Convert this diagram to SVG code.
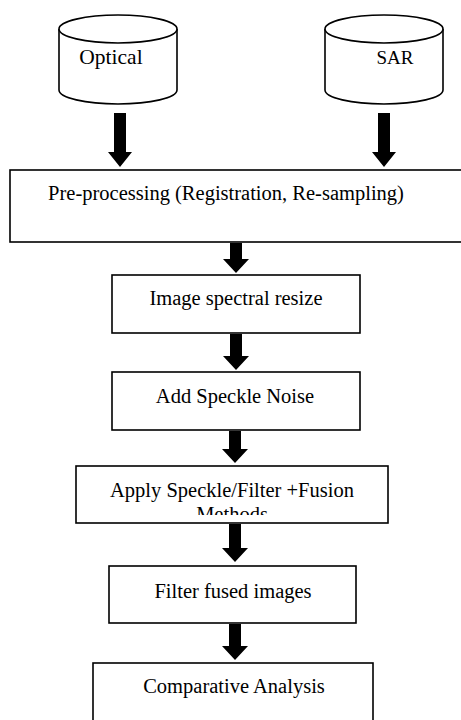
<svg xmlns="http://www.w3.org/2000/svg" width="461" height="720" viewBox="0 0 461 720">
<defs>
<style>
.s{fill:#fff;stroke:#000;stroke-width:1.6}
.t{font-family:"Liberation Serif","Times New Roman",serif;font-size:20.5px;fill:#000;text-anchor:middle}
.a{fill:#000;stroke:none}
</style>
<clipPath id="clipApply"><rect x="76" y="467" width="312" height="48"/></clipPath>
</defs>
<rect width="461" height="720" fill="#fff"/>
<g id="optical">
<path class="s" d="M59,29 V90 A59,14 0 0 0 177,90 V29"/>
<ellipse class="s" cx="118" cy="29" rx="59" ry="14"/>
<text class="t" x="111" y="64" style="font-size:21.5px">Optical</text>
</g>
<g id="sar">
<path class="s" d="M325,29 V90 A59,14 0 0 0 443,90 V29"/>
<ellipse class="s" cx="384" cy="29" rx="59" ry="14"/>
<text class="t" x="395" y="64" style="font-size:19px">SAR</text>
</g>
<g id="preprocessing">
<rect class="s" x="10" y="170" width="460" height="72"/>
<text class="t" x="226" y="200">Pre-processing (Registration, Re-sampling)</text>
</g>
<g id="resize">
<rect class="s" x="112" y="275" width="248" height="58"/>
<text class="t" x="236" y="305">Image spectral resize</text>
</g>
<g id="noise">
<rect class="s" x="112" y="372" width="248" height="58"/>
<text class="t" x="235" y="403">Add Speckle Noise</text>
</g>
<g id="apply">
<rect class="s" x="76" y="466" width="312" height="57"/>
<text class="t" x="232" y="497" clip-path="url(#clipApply)"><tspan x="232">Apply Speckle/Filter +Fusion</tspan><tspan x="232" dy="24">Methods</tspan></text>
</g>
<g id="filter">
<rect class="s" x="109" y="566" width="247" height="57"/>
<text class="t" x="233" y="598">Filter fused images</text>
</g>
<g id="comparative">
<rect class="s" x="93" y="663" width="280" height="70"/>
<text class="t" x="234" y="693">Comparative Analysis</text>
</g>
<g id="connectors">
<polygon class="a" points="114,113 126,113 126,152 132,152 120,167 108,152 114,152"/>
<polygon class="a" points="378,113 390,113 390,152 396,152 384,167 372,152 378,152"/>
<polygon class="a" points="230,243 242,243 242,259 249,259 236,273 223,259 230,259"/>
<polygon class="a" points="230,334 242,334 242,356 249,356 236,370 223,356 230,356"/>
<polygon class="a" points="229,431 241,431 241,449 248,449 235,463 222,449 229,449"/>
<polygon class="a" points="229,524 241,524 241,548 248,548 235,562 222,548 229,548"/>
<polygon class="a" points="229,624 241,624 241,646 248,646 235,660 222,646 229,646"/>
</g>
</svg>
